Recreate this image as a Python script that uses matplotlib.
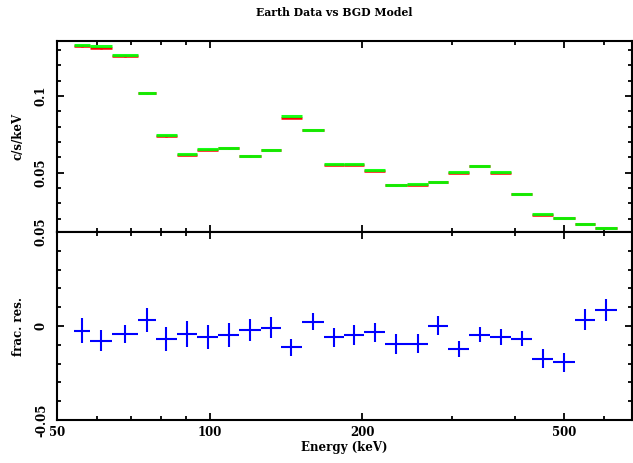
import numpy as np
import matplotlib
matplotlib.use("Agg")
import matplotlib.pyplot as plt
from matplotlib.ticker import FixedLocator, MultipleLocator, FuncFormatter

# ---- data ----
bin_edges = [54.1, 58.2, 64.2, 72.1, 78.3, 86.1, 94.3, 104.0, 114.3, 126.0,
             138.0, 151.8, 168.1, 183.8, 201.7, 221.5, 244.6, 269.7, 295.4,
             325.2, 357.4, 392.3, 432.4, 476.1, 524.2, 575.2, 634.7]
model = [0.1328, 0.1324, 0.1266, 0.1018, 0.0744, 0.0621, 0.0655, 0.0662,
         0.0610, 0.0647, 0.0868, 0.0775, 0.0554, 0.0556, 0.0515, 0.0422,
         0.0424, 0.0437, 0.0504, 0.0547, 0.0504, 0.0361, 0.0231, 0.0207,
         0.0164, 0.0142]
data = [0.1325, 0.1314, 0.1260, 0.1021, 0.0739, 0.0618, 0.0651, 0.0659,
        0.0609, 0.0646, 0.0858, 0.0777, 0.0551, 0.0553, 0.0513, 0.0418,
        0.0420, 0.0437, 0.0498, 0.0544, 0.0501, 0.0359, 0.0227, 0.0203,
        0.0165, 0.0143]
resid = [-0.0025, -0.0079, -0.0044, 0.0033, -0.0070, -0.0042, -0.0057,
         -0.0049, -0.0023, -0.0009, -0.0113, 0.0023, -0.0060, -0.0048,
         -0.0033, -0.0097, -0.0094, 0.0002, -0.0122, -0.0046, -0.0058,
         -0.0067, -0.0175, -0.0192, 0.0033, 0.0085]
resid_err = [0.0066, 0.0056, 0.0049, 0.0063, 0.0065, 0.0070, 0.0063, 0.0063,
             0.0059, 0.0057, 0.0046, 0.0046, 0.0050, 0.0053, 0.0050, 0.0053,
             0.0050, 0.0050, 0.0042, 0.0040, 0.0041, 0.0042, 0.0051, 0.0051,
             0.0056, 0.0056]
data_err = [0.0009, 0.0007, 0.0006, 0.0006, 0.0005, 0.0004, 0.0004, 0.0004,
            0.0004, 0.0004, 0.0004, 0.0004, 0.0003, 0.0003, 0.0003, 0.0002,
            0.0002, 0.0002, 0.0002, 0.0002, 0.0002, 0.0002, 0.0001, 0.0001,
            0.0001, 0.0001]
x_major = [50, 100, 200, 500]
x_minor = [60, 70, 80, 90, 300, 400, 600]

title = "Earth Data vs BGD Model"
ylabel_top = "c/s/keV"
ylabel_bot = "frac. res."
xlabel = "Energy (keV)"

plt.rcParams['font.family'] = ['DejaVu Serif']
plt.rcParams['font.weight'] = 'bold'

edges = np.array(bin_edges)
centers = np.sqrt(edges[:-1] * edges[1:])
xerr = np.vstack([centers - edges[:-1], edges[1:] - centers])

W, H = 633, 463
fig = plt.figure(figsize=(W / 100, H / 100), dpi=100)
L, R = 57 / W, 632 / W
ax1 = fig.add_axes([L, 1 - 232 / H, R - L, (232 - 41) / H])
ax2 = fig.add_axes([L, 1 - 420 / H, R - L, (420 - 232) / H], sharex=ax1)

# top panel
ax1.errorbar(centers, data, xerr=xerr, yerr=data_err, fmt='none',
             ecolor='#ff0000', elinewidth=1.8, capsize=0, zorder=2)
ax1.errorbar(centers, model, xerr=xerr, fmt='none',
             ecolor='#00ff00', elinewidth=2.2, capsize=0, zorder=3, alpha=0.9)

# bottom panel
ax2.errorbar(centers, resid, xerr=xerr, yerr=resid_err, fmt='none',
             ecolor='#0000ff', elinewidth=1.5, capsize=0)

ax1.set_xscale('log')
ax1.set_xlim(50, 680)
ax1.set_ylim(0.01144, 0.1357)
ax2.set_ylim(-0.05, 0.05)

fmt = FuncFormatter(lambda v, p: ('%g' % round(v, 4)))
for ax in (ax1, ax2):
    ax.xaxis.set_major_locator(FixedLocator(x_major))
    ax.xaxis.set_minor_locator(FixedLocator(x_minor))
    ax.yaxis.set_major_locator(MultipleLocator(0.05))
    ax.yaxis.set_minor_locator(MultipleLocator(0.01))
    ax.yaxis.set_major_formatter(fmt)
    ax.xaxis.set_major_formatter(FuncFormatter(lambda v, p: '%d' % v))
    ax.xaxis.set_minor_formatter(FuncFormatter(lambda v, p: ''))
    ax.tick_params(which='both', direction='in', top=True, right=True,
                   width=1.3, labelsize=8.5)
    ax.tick_params(which='major', length=5)
    ax.tick_params(which='minor', length=2.8)
    ax.tick_params(axis='y', labelrotation=90, pad=6.5)
    ax.tick_params(axis='x', pad=4)
    for s in ax.spines.values():
        s.set_linewidth(1.5)
    for lab in ax.get_yticklabels():
        lab.set_va('center')

plt.setp(ax1.get_xticklabels(), visible=False)

ax1.set_ylabel(ylabel_top, fontsize=8.5, fontweight='bold')
ax2.set_ylabel(ylabel_bot, fontsize=8.5, fontweight='bold')
ax1.yaxis.set_label_coords(-32 / ((R - L) * W), 0.5)
ax2.yaxis.set_label_coords(-32 / ((R - L) * W), 0.5)
ax2.set_xlabel(xlabel, fontsize=8.5, fontweight='bold', labelpad=2)

fig.text(334 / W, 1 - 12 / H, title, ha='center', va='center',
         fontsize=7.8, fontweight='bold')

fig.savefig('out.png', dpi=100)
